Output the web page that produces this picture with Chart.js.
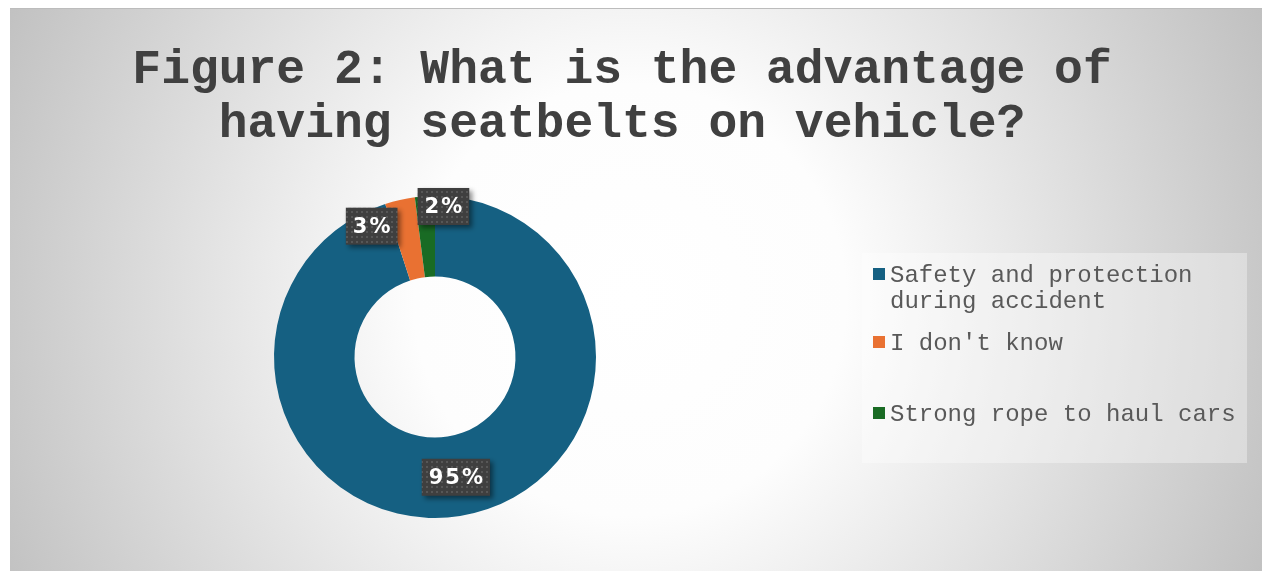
<!DOCTYPE html>
<html lang="en">
<head>
  <meta charset="UTF-8">
  <title>Seatbelt survey - Figure 2</title>
  <script src="https://cdn.jsdelivr.net/npm/chart.js"></script>
  <style>
    html, body {
      margin: 0;
      padding: 0;
      background: #ffffff;
    }
    #wrap {
      position: relative;
      width: 1262px;
      height: 571px;
    }
  </style>
</head>
<body>
  <div id="wrap">
    <canvas id="surveyChart" width="1262" height="571"></canvas>
  </div>

  <script>
    // Survey answers
    const titleLines = ['Figure 2: What is the advantage of', 'having seatbelts on vehicle?'];
    const answers = ['Safety and protection during accident', "I don't know", 'Strong rope to haul cars'];
    const legendLines = [['Safety and protection', 'during accident'], ["I don't know"], ['Strong rope to haul cars']];
    const percents = [95, 3, 2];
    const sliceColors = ['#156082', '#E97132', '#196B24'];
    // labels for the two thin slices were dragged off the ring
    const labelNudgeX = [2, -37, 16];
    const labelNudgeY = [1, -13, -30];

    // small dotted fill used behind the data labels
    function dottedFill(ctx) {
      const tile = document.createElement('canvas');
      tile.width = 5;
      tile.height = 5;
      const t = tile.getContext('2d');
      t.fillStyle = '#3f3f3f';
      t.fillRect(0, 0, 5, 5);
      t.fillStyle = '#575757';
      t.fillRect(1, 1, 2, 2);
      return ctx.createPattern(tile, 'repeat');
    }

    const backdrop = {
      id: 'backdrop',
      beforeDraw(chart) {
        const ctx = chart.ctx;
        ctx.save();
        ctx.fillStyle = '#ffffff';
        ctx.fillRect(0, 0, chart.width, chart.height);
        const g = ctx.createRadialGradient(630, 300, 0, 630, 300, 720);
        g.addColorStop(0, '#ffffff');
        g.addColorStop(0.3, '#fdfdfd');
        g.addColorStop(1, '#bdbdbd');
        ctx.fillStyle = g;
        ctx.fillRect(10, 8, chart.width - 10, chart.height - 8);
        ctx.fillStyle = '#bcbcbc';
        ctx.fillRect(10, 8, chart.width - 10, 1);

        // title
        ctx.fillStyle = '#404040';
        ctx.font = 'bold 48px "Liberation Mono", "Courier New", monospace';
        ctx.textAlign = 'center';
        ctx.textBaseline = 'alphabetic';
        titleLines.forEach((line, i) => ctx.fillText(line, 622, 83 + i * 54));
        ctx.restore();
      }
    };

    const sliceLabels = {
      id: 'sliceLabels',
      afterDatasetsDraw(chart) {
        const ctx = chart.ctx;
        const meta = chart.getDatasetMeta(0);
        const fill = dottedFill(ctx);
        ctx.save();
        ctx.font = 'bold 21px "DejaVu Sans", sans-serif';
        ctx.letterSpacing = '2px';
        ctx.textAlign = 'center';
        ctx.textBaseline = 'middle';
        meta.data.forEach((arc, i) => {
          const p = arc.tooltipPosition();
          const x = p.x + labelNudgeX[i];
          const y = p.y + labelNudgeY[i];
          const text = percents[i] + '%';
          const w = ctx.measureText(text).width + 12;
          const h = 37;
          ctx.save();
          ctx.shadowColor = 'rgba(0,0,0,0.45)';
          ctx.shadowBlur = 5;
          ctx.shadowOffsetX = 3;
          ctx.shadowOffsetY = 3;
          ctx.fillStyle = fill;
          ctx.fillRect(x - w / 2, y - h / 2, w, h);
          ctx.restore();
          ctx.fillStyle = '#ffffff';
          ctx.fillText(text, x + 1, y + 1);
        });
        ctx.restore();
      }
    };

    const sideLegend = {
      id: 'sideLegend',
      afterDraw(chart) {
        const ctx = chart.ctx;
        ctx.save();
        ctx.fillStyle = 'rgba(255,255,255,0.35)';
        ctx.fillRect(862, 253, 385, 210);
        ctx.font = '24px "Liberation Mono", "Courier New", monospace';
        ctx.textAlign = 'left';
        ctx.textBaseline = 'alphabetic';
        const rowY = [282, 350, 421];
        legendLines.forEach((lines, i) => {
          ctx.fillStyle = sliceColors[i];
          ctx.fillRect(873, rowY[i] - 14, 12, 12);
          ctx.fillStyle = '#595959';
          lines.forEach((line, j) => ctx.fillText(line, 890, rowY[i] + j * 26));
        });
        ctx.restore();
      }
    };

    new Chart(document.getElementById('surveyChart'), {
      type: 'doughnut',
      data: {
        labels: answers,
        datasets: [{
          data: percents,
          backgroundColor: sliceColors,
          borderWidth: 0
        }]
      },
      options: {
        responsive: false,
        animation: false,
        cutout: '50%',
        rotation: 0,
        layout: {
          padding: { left: 274, right: 666, top: 196, bottom: 53 }
        },
        plugins: {
          legend: { display: false },
          title: { display: false },
          tooltip: { enabled: false }
        }
      },
      plugins: [backdrop, sliceLabels, sideLegend]
    });
  </script>
</body>
</html>
